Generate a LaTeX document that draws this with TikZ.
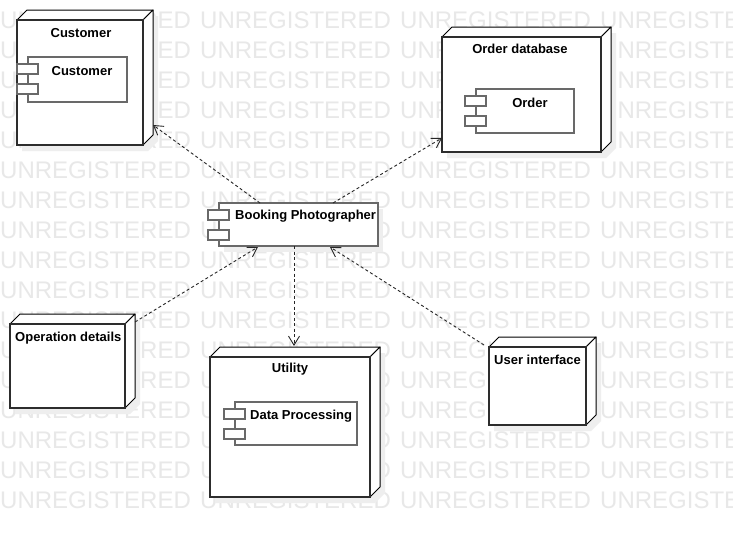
\documentclass[tikz,border=0pt]{standalone}
\usepackage{fontspec}
\setmainfont{Liberation Sans}
\usetikzlibrary{arrows.meta,calc}
\definecolor{wm}{RGB}{232,232,232}
\definecolor{shd}{RGB}{238,238,238}
\definecolor{edgec}{RGB}{45,45,45}
\definecolor{compc}{RGB}{105,105,105}
\pgfdeclarelayer{wml}
\pgfdeclarelayer{shl}
\pgfsetlayers{wml,shl,main}
\newcommand{\nodecube}[1]{%
  \begin{pgfonlayer}{shl}
  \fill[shd] ($(#1.north west)+(5,6)$) -- ($(#1.north west)+(15,-4)$) -- ($(#1.north east)+(15,-4)$) -- ($(#1.south east)+(15,-4)$) -- ($(#1.south east)+(5,6)$) -- ($(#1.south west)+(5,6)$) -- cycle;
  \end{pgfonlayer}
  \filldraw[depthface] (#1.north west) -- ($(#1.north west)+(10,-10)$) -- ($(#1.north east)+(10,-10)$) -- (#1.north east) -- cycle;
  \filldraw[depthface] (#1.north east) -- ($(#1.north east)+(10,-10)$) -- ($(#1.south east)+(10,-10)$) -- (#1.south east) -- cycle;
  \draw[frontline] (#1.north west) rectangle (#1.south east);
}
\newcommand{\compdeco}[1]{%
  \begin{pgfonlayer}{shl}
  \fill[shd] ($(#1.north west)+(5,6)$) rectangle ($(#1.south east)+(5,6)$);
  \end{pgfonlayer}
  \filldraw[portbox] ($(#1.north west)+(-11,7)$) rectangle ++(21,10);
  \filldraw[portbox] ($(#1.north west)+(-11,27)$) rectangle ++(21,10);
}
\begin{document}
\begin{tikzpicture}[x=1pt,y=-1pt,
  frontline/.style={draw=edgec, line width=1.7pt},
  cubenode/.style={draw=edgec, fill=white, line width=1.7pt, anchor=north west, inner sep=0pt, outer sep=0pt},
  depthface/.style={draw=black, fill=white, line width=1pt, line join=round},
  compnode/.style={draw=compc, fill=white, line width=1.6pt, anchor=north west, inner sep=0pt, outer sep=0pt},
  portbox/.style={draw=compc, fill=white, line width=1.4pt},
  lbl/.style={font=\fontsize{13}{15}\selectfont\bfseries, inner sep=0pt, anchor=base},
  lblw/.style={lbl, anchor=base west},
  wmtext/.style={font=\fontsize{24}{26}\selectfont, text=wm, inner sep=0pt, anchor=west},
  dep/.style={draw=black!85, line width=0.9pt, dash pattern=on 3pt off 2.5pt, -{Straight Barb[length=9pt,width=11pt]}}]
\useasboundingbox (0,0) rectangle (733,538);
% watermark
\begin{pgfonlayer}{wml}
\fill[white] (0,0) rectangle (733,538);
\begin{scope}
\clip (0,0) rectangle (733,538);
\foreach \r in {0,...,16}{
  \foreach \c in {0,...,3}{
    \node[wmtext] (wm-\r-\c) at (\c*200, 20+\r*30) {UNREGISTERED};
  }
}
\end{scope}
\end{pgfonlayer}
% deployment nodes
\node[cubenode, minimum width=126pt, minimum height=125pt] (customer) at (17,20) {};
\nodecube{customer}
\node[cubenode, minimum width=159pt, minimum height=115pt] (orderdb) at (442,37) {};
\nodecube{orderdb}
\node[cubenode, minimum width=115pt, minimum height=84pt] (opdet) at (10,324) {};
\nodecube{opdet}
\node[cubenode, minimum width=160pt, minimum height=140pt] (utility) at (210,357) {};
\nodecube{utility}
\node[cubenode, minimum width=97pt, minimum height=78pt] (userif) at (489,347) {};
\nodecube{userif}
% components
\node[compnode, minimum width=99pt, minimum height=45pt] (custC) at (28,57) {};
\compdeco{custC}
\node[compnode, minimum width=98pt, minimum height=44pt] (orderC) at (476,89) {};
\compdeco{orderC}
\node[compnode, minimum width=122pt, minimum height=43pt] (dataC) at (235,402) {};
\compdeco{dataC}
\node[compnode, minimum width=159pt, minimum height=43pt] (booking) at (219,203) {};
\compdeco{booking}
% labels
\node[lbl] (customerT) at (81,37) {Customer};
\node[lbl] (custCT) at (82,75) {Customer};
\node[lbl] (orderdbT) at (520,53) {Order database};
\node[lbl] (orderCT) at (530,107) {Order};
\node[lblw] (bookingT) at (235,219) {Booking Photographer};
\node[lblw] (opdetT) at (15,341) {Operation details};
\node[lbl] (utilityT) at (290,372) {Utility};
\node[lblw] (dataCT) at (250,419) {Data Processing};
\node[lblw] (userifT) at (494,364) {User interface};
% dependencies
\draw[dep] ($(booking.north west)+(41,0)$) -- ($(customer.south east)+(10,-20)$);
\draw[dep] ($(booking.north west)+(114,0)$) -- ($(orderdb.south west)+(0,-14)$);
\draw[dep] ($(booking.south west)+(75,0)$) -- ($(utility.north west)+(84,-11)$);
\draw[dep] ($(opdet.north east)+(10,-2)$) -- ($(booking.south west)+(39,1)$);
\draw[dep] ($(userif.north west)+(-5,-2)$) -- ($(booking.south west)+(111,1)$);
\end{tikzpicture}
\end{document}
